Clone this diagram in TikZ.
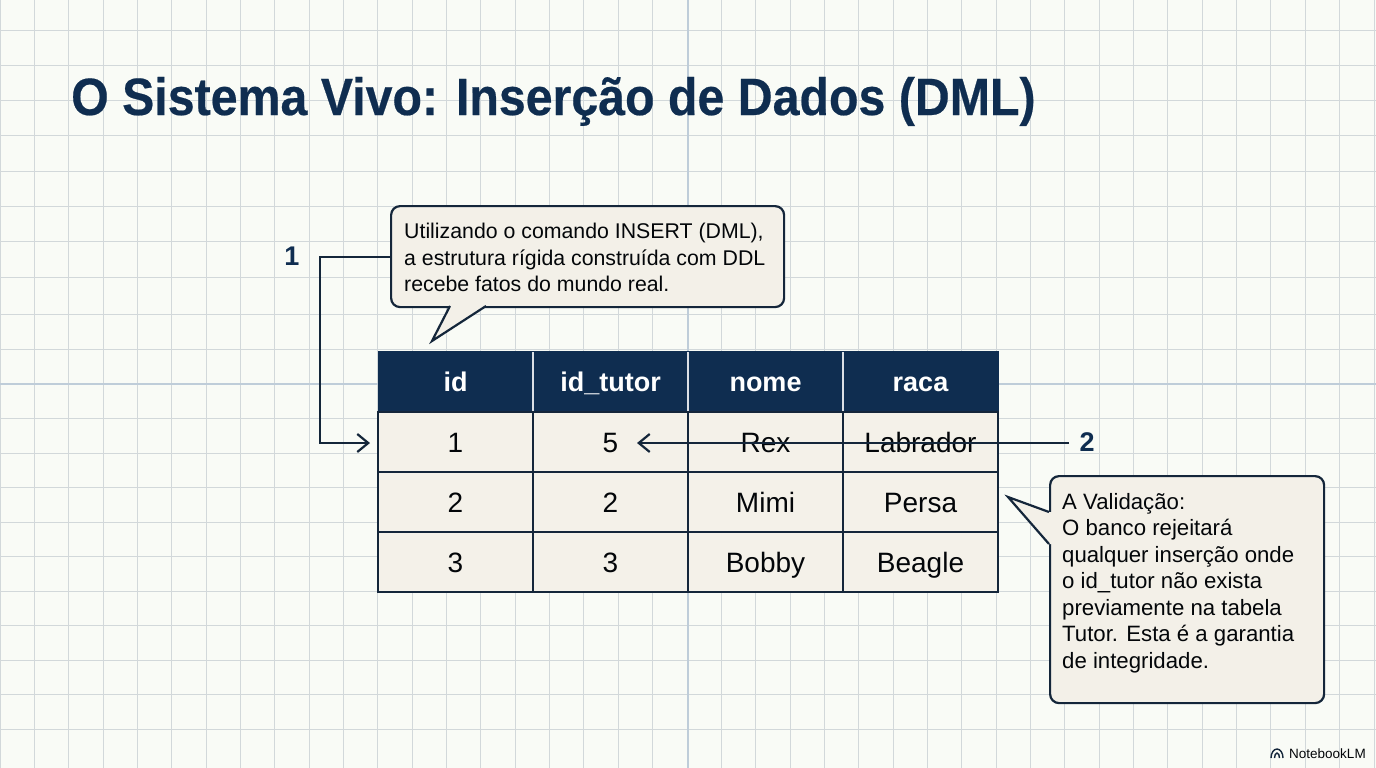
\documentclass[tikz,border=0pt]{standalone}
\usepackage{fontspec}
\setmainfont{Liberation Sans}
\newfontfamily\titlefont[FakeStretch=0.92,BoldFeatures={FakeBold=0.4}]{Liberation Sans}
\usetikzlibrary{arrows.meta}
\definecolor{paper}{HTML}{F9FBF6}
\definecolor{gridc}{HTML}{D2D8DA}
\definecolor{axisc}{HTML}{BFCDD9}
\definecolor{navy}{HTML}{0F2D50}
\definecolor{ink}{HTML}{14263A}
\definecolor{cellc}{HTML}{F4F1E9}
\definecolor{bubblec}{HTML}{F3F0E8}
\tikzset{
 x=1pt,y=-1pt,
 gridline/.style={gridc,line width=1pt},
 axisline/.style={axisc,line width=1.3pt},
 titletext/.style={anchor=base west,inner sep=0pt,text=navy,font=\titlefont\fontsize{52.5}{60}\selectfont\bfseries},
 bubble/.style={draw=ink,line width=2.2pt,fill=bubblec,rounded corners=9pt,anchor=north west,inner sep=0pt},
 bubbletext/.style={anchor=north west,inner sep=0pt,align=left,text=black!85!ink},
 bubbleA/.style={bubbletext,font=\fontsize{21.3}{26.5}\selectfont},
 bubbleB/.style={bubbletext,font=\fontsize{22.2}{26.5}\selectfont},
 cell/.style={draw=ink,line width=1.8pt,fill=cellc,minimum width=155pt,minimum height=60pt,inner sep=0pt,text=black!85!ink,text height=20pt,text depth=0pt,font=\fontsize{28}{30}\selectfont},
 headcell/.style={fill=navy,draw=navy,minimum width=155pt,minimum height=61pt,inner sep=0pt,text=white,text height=19pt,text depth=0pt,font=\fontsize{27}{30}\selectfont\bfseries},
 connector/.style={ink,line width=2.2pt},
 barb/.style={-{Straight Barb[length=11pt,width=18pt,line width=2.2pt]}},
 num/.style={inner sep=0pt,text=navy,font=\fontsize{27}{30}\selectfont\bfseries},
}
\begin{document}
\begin{tikzpicture}
\useasboundingbox (0,0) rectangle (1376,768);
\fill[paper] (0,0) rectangle (1376,768);
% grid
\foreach \k in {0,...,40} { \draw[gridline] ({34.35*\k},0) -- ({34.35*\k},768); }
\foreach \y in {30.7,65.3,100,135,171,206,241,277,314,349,418.5,453,487.5,522,556.5,591,625.5,660,694.5,729.3} { \draw[gridline] (0,\y) -- (1376,\y); }
\draw[axisline] (688,0) -- (688,768);
\draw[axisline] (0,384) -- (1376,384);
% title
\node[titletext] (title) at (71,115) {O Sistema Vivo: Inserção de Dados (DML)};
% table
\foreach \n/\t [count=\i from 0] in {id/id,idt/id\_tutor,nome/nome,raca/raca} {
  \node[headcell] (h\n) at ({455.5+155*\i},381.5) {\t};
}
\foreach \a/\b/\c/\d [count=\r from 1] in {1/5/Rex/Labrador,2/2/Mimi/Persa,3/3/Bobby/Beagle} {
  \node[cell] (c\r a) at (455.5,{382+60*\r}) {\a};
  \node[cell] (c\r b) at (610.5,{382+60*\r}) {\b};
  \node[cell] (c\r c) at (765.5,{382+60*\r}) {\c};
  \node[cell] (c\r d) at (920.5,{382+60*\r}) {\d};
}
\foreach \x in {533,688,843} { \draw[white!85!navy,line width=1.4pt] (\x,352) -- (\x,411); }
% bubble 1
\node[bubble,minimum width=393pt,minimum height=101pt] (b1) at (390,205) {};
\coordinate (t1a) at (450,306); \coordinate (t1tip) at (432,341); \coordinate (t1b) at (486,306);
\fill[bubblec] ([yshift=4pt]t1a) -- (t1a) -- (t1tip) -- (t1b) -- ([yshift=4pt]t1b) -- cycle;
\draw[ink,line width=2.2pt,line join=miter] (t1a) -- (t1tip) -- (t1b);
\node[bubbleA] (b1t) at (404,223) {Utilizando o comando INSERT (DML),\\a estrutura rígida construída com DDL\\recebe fatos do mundo real.};
% bubble 2
\node[bubble,minimum width=274pt,minimum height=227pt] (b2) at (1049,475) {};
\coordinate (t2a) at (1049,512); \coordinate (t2tip) at (1008,497); \coordinate (t2b) at (1049,544);
\fill[bubblec] ([xshift=4pt]t2a) -- (t2a) -- (t2tip) -- (t2b) -- ([xshift=4pt]t2b) -- cycle;
\draw[ink,line width=2.2pt,line join=miter] (t2a) -- (t2tip) -- (t2b);
\node[bubbleB] (b2t) at (1062,493) {A Validação:\\O banco rejeitará\\qualquer inserção onde\\o id\_tutor não exista\\previamente na tabela\\Tutor. Esta é a garantia\\de integridade.};
% connectors
\node[num] (n1) at (292,256.5) {1};
\node[num] (n2) at (1087,442) {2};
\coordinate (elbow) at (320,443);
\coordinate (e1) at (370,443);
\coordinate (s2) at (1069,443);
\coordinate (e2) at (637,443);
\draw[connector,barb] (b1.west) -| (elbow) -- (e1);
\draw[connector,barb] (s2) -- (e2);
% logo
\node[anchor=base west,inner sep=0pt,text=black!85!ink,font=\fontsize{13.5}{15}\selectfont] (logo) at (1289,758) {NotebookLM};
\draw[ink,line width=1.4pt] (1271,758) arc[start angle=180,end angle=0,x radius=6pt,y radius=9pt];
\draw[ink,line width=1.4pt] (1274.5,758) arc[start angle=180,end angle=0,x radius=2.5pt,y radius=5pt];
\end{tikzpicture}
\end{document}
